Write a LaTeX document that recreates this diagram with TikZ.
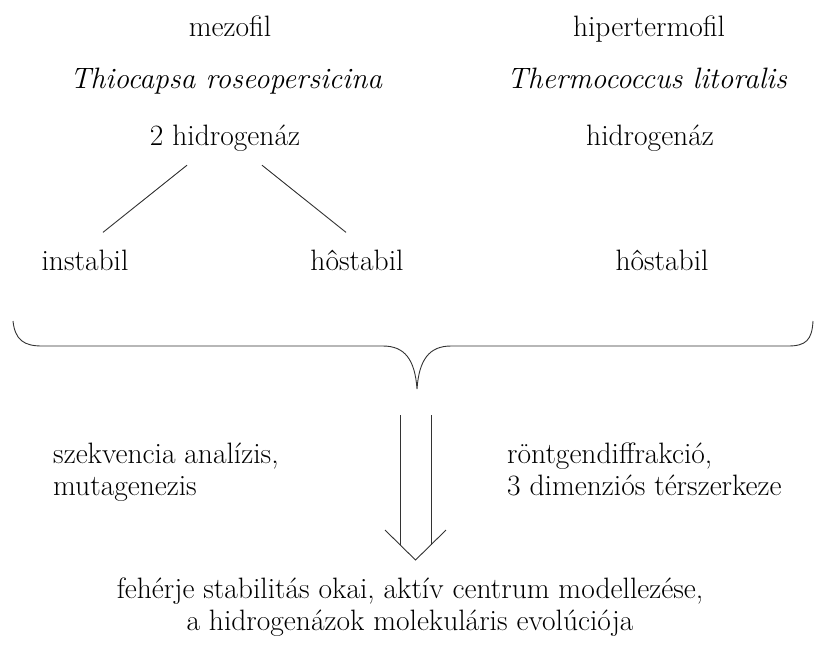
\documentclass[tikz,border=0pt]{standalone}
\usepackage{tikz}

\begin{document}
\begin{tikzpicture}[x=1pt,y=-1pt,
	lbl/.style={inner sep=0pt,anchor=base,font=\fontsize{29.5}{32}\selectfont},
	lbli/.style={lbl,font=\fontsize{29.5}{32}\selectfont\itshape},
	ln/.style={color=black!80,line width=0.9pt}]
	\useasboundingbox (0,0) rectangle (818,654);
	\node[lbl] (meso) at (230,36) {mezofil};
	\node[lbl] (hyper) at (649,36) {hipertermofil};
	\node[lbli] (thio) at (226,88) {Thiocapsa roseopersicina};
	\node[lbli] (thermo) at (647,88) {Thermococcus litoralis};
	\node[lbl] (hid2) at (225,145) {2 hidrogenáz};
	\node[lbl] (hid1) at (650,145) {hidrogenáz};
	\node[lbl] (instab) at (85,270) {instabil};
	\node[lbl] (hstab) at (357,270) {hôstabil};
	\node[lbl] (hstabr) at (662,270) {hôstabil};
	\draw[ln] ([shift={(-38,14)}]hid2.south) -- ([shift={(18,-17)}]instab.north);
	\draw[ln] ([shift={(37,14)}]hid2.south) -- ([shift={(-11,-17)}]hstab.north);
	
	\draw[ln] (13,321) .. controls (15,340) and (24,346) .. (42,346) -- (383,346)
		.. controls (405,346) and (415,360) .. (417,389)
		.. controls (419,360) and (429,346) .. (451,346) -- (788,346)
		.. controls (806,346) and (812,340) .. (813,321);
	\draw[ln] (400,415) -- (400,545);
	\draw[ln] (431,415) -- (431,545);
	\draw[ln] (385,530) -- (415.5,560) -- (446,530);
	
	\node[lbl,anchor=base west,align=left] (seq) at (53,495) {szekvencia analízis,\\mutagenezis};
	\node[lbl,anchor=base west,align=left] (xray) at (507,495) {röntgendiffrakció,\\3 dimenziós térszerkeze};
	\node[lbl,align=center] (res) at (410,630) {fehérje stabilitás okai, aktív centrum modellezése,\\a hidrogenázok molekuláris evolúciója};
\end{tikzpicture}
\end{document}
